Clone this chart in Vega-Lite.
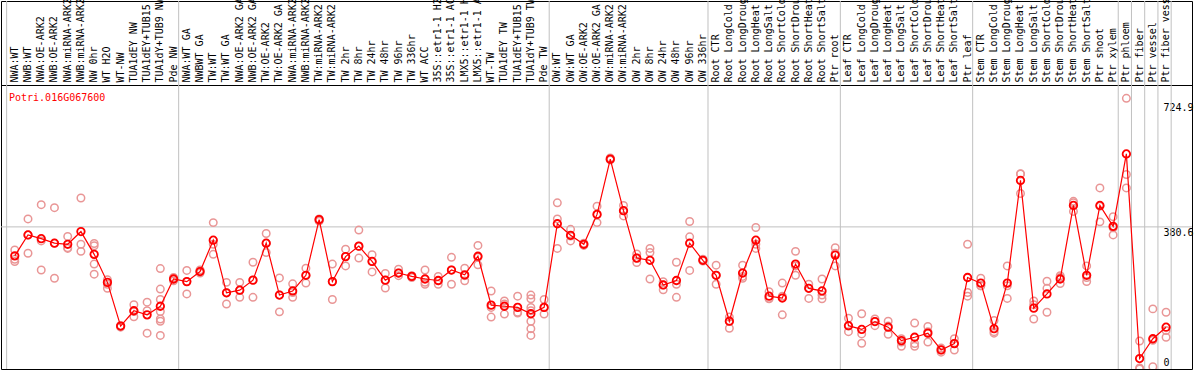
{
  "$schema": "https://vega.github.io/schema/vega-lite/v6.json",
  "width": 1191,
  "height": 368,
  "autosize": {"type": "none"},
  "padding": {"left": 1, "top": 1, "right": 2, "bottom": 1},
  "background": "white",
  "config": {
    "view": {"stroke": "black", "strokeWidth": 1},
    "font": "DejaVu Sans Mono",
    "axisX": {"offset": -84, "domain": true, "domainColor": "black", "domainWidth": 1, "ticks": false, "grid": false, "labelAngle": 270, "labelAlign": "left", "labelBaseline": "middle", "labelPadding": 3, "labelFont": "DejaVu Sans Mono", "labelFontSize": 10, "labelColor": "black", "labelOverlap": false, "labelOffset": 1.5, "labelLimit": 300, "labelBound": false, "zindex": 1},
    "axisY": {"offset": -30, "domain": false, "ticks": false, "grid": false, "labelFont": "DejaVu Sans Mono", "labelFontSize": 10, "labelColor": "black", "labelAlign": "left", "labelBaseline": "middle", "labelPadding": 1, "labelBound": false, "labelFlush": false, "labelOverlap": false, "zindex": 1}
  },
  "title": {"text": "Potri.016G067600", "orient": "bottom", "anchor": "start", "frame": "group", "offset": 0, "dx": 8, "dy": -272, "baseline": "middle", "color": "#FF0000", "font": "DejaVu Sans Mono", "fontSize": 10, "fontWeight": "normal"},
  "datasets": {
    "bounds": [{"c": "NWA:WT"}, {"c": "NWA:WT GA"}, {"c": "OW:WT"}, {"c": "Root CTR"}, {"c": "Leaf CTR"}, {"c": "Stem CTR"}, {"c": "Ptr phloem"}, {"c": "Ptr fiber"}, {"c": "Ptr vessel"}, {"c": "Ptr fiber vessel"}],
    "lastbound": [{"c": "Ptr fiber vessel"}],
    "gridline": [{"v": 380.6}],
    "means": [
      {"i": 1, "c": "NWA:WT", "v": 303}, {"i": 2, "c": "NWB:WT", "v": 359}, {"i": 3, "c": "NWA:OE-ARK2", "v": 349}, {"i": 4, "c": "NWB:OE-ARK2", "v": 337},
      {"i": 5, "c": "NWA:miRNA-ARK2", "v": 334}, {"i": 6, "c": "NWB:miRNA-ARK2", "v": 368}, {"i": 7, "c": "NW 0hr", "v": 307}, {"i": 8, "c": "WT H2O", "v": 232},
      {"i": 9, "c": "WT-NW", "v": 115}, {"i": 10, "c": "TUA1dEY NW", "v": 156}, {"i": 11, "c": "TUA1dEY+TUB15 NW", "v": 145}, {"i": 12, "c": "TUA1dY+TUB9 NW", "v": 168},
      {"i": 13, "c": "Pde NW", "v": 241}, {"i": 14, "c": "NWA:WT GA", "v": 234}, {"i": 15, "c": "NWBWT GA", "v": 261}, {"i": 16, "c": "TW:WT", "v": 345},
      {"i": 17, "c": "TW:WT GA", "v": 204}, {"i": 18, "c": "NWA:OE-ARK2 GA", "v": 211}, {"i": 19, "c": "NWB:OE-ARK2 GA", "v": 238}, {"i": 20, "c": "TW:OE-ARK2", "v": 337},
      {"i": 21, "c": "TW:OE-ARK2 GA", "v": 198}, {"i": 22, "c": "NWA:miRNA-ARK2 ", "v": 209}, {"i": 23, "c": "NWB:miRNA-ARK2 ", "v": 251}, {"i": 24, "c": "TW:miRNA-ARK2", "v": 400},
      {"i": 25, "c": "TW:miRNA-ARK2 ", "v": 234}, {"i": 26, "c": "TW 2hr", "v": 301}, {"i": 27, "c": "TW 8hr", "v": 329}, {"i": 28, "c": "TW 24hr", "v": 288},
      {"i": 29, "c": "TW 48hr", "v": 238}, {"i": 30, "c": "TW 96hr", "v": 257}, {"i": 31, "c": "TW 336hr", "v": 248}, {"i": 32, "c": "WT ACC", "v": 241},
      {"i": 33, "c": "35S::etr1-1 H2O", "v": 237}, {"i": 34, "c": "35S::etr1-1 ACC", "v": 265}, {"i": 35, "c": "LMX5::etr1-1 H2O", "v": 252}, {"i": 36, "c": "LMX5::etr1-1 ACC", "v": 302},
      {"i": 37, "c": "WT-TW", "v": 171}, {"i": 38, "c": "TUA1dEY TW", "v": 168}, {"i": 39, "c": "TUA1dEY+TUB15 TW", "v": 165}, {"i": 40, "c": "TUA1dY+TUB9 TW", "v": 148},
      {"i": 41, "c": "Pde TW", "v": 165}, {"i": 42, "c": "OW:WT", "v": 389}, {"i": 43, "c": "OW:WT GA", "v": 358}, {"i": 44, "c": "OW:OE-ARK2", "v": 334},
      {"i": 45, "c": "OW:OE-ARK2 GA", "v": 414}, {"i": 46, "c": "OW:miRNA-ARK2", "v": 562}, {"i": 47, "c": "OW:miRNA-ARK2 ", "v": 424}, {"i": 48, "c": "OW 2hr", "v": 297},
      {"i": 49, "c": "OW 8hr", "v": 291}, {"i": 50, "c": "OW 24hr", "v": 225}, {"i": 51, "c": "OW 48hr", "v": 237}, {"i": 52, "c": "OW 96hr", "v": 337},
      {"i": 53, "c": "OW 336hr", "v": 291}, {"i": 54, "c": "Root CTR", "v": 251}, {"i": 55, "c": "Root LongCold", "v": 128}, {"i": 56, "c": "Root LongDrought", "v": 257},
      {"i": 57, "c": "Root LongHeat", "v": 345}, {"i": 58, "c": "Root LongSalt", "v": 195}, {"i": 59, "c": "Root ShortCold", "v": 190}, {"i": 60, "c": "Root ShortDrought", "v": 281},
      {"i": 61, "c": "Root ShortHeat", "v": 216}, {"i": 62, "c": "Root ShortSalt", "v": 209}, {"i": 63, "c": "Ptr root", "v": 305}, {"i": 64, "c": "Leaf CTR", "v": 116},
      {"i": 65, "c": "Leaf LongCold", "v": 106}, {"i": 66, "c": "Leaf LongDrought", "v": 127}, {"i": 67, "c": "Leaf LongHeat", "v": 112}, {"i": 68, "c": "Leaf LongSalt", "v": 76},
      {"i": 69, "c": "Leaf ShortCold", "v": 85}, {"i": 70, "c": "Leaf ShortDrought", "v": 96}, {"i": 71, "c": "Leaf ShortHeat", "v": 51}, {"i": 72, "c": "Leaf ShortSalt", "v": 68},
      {"i": 73, "c": "Ptr leaf", "v": 245}, {"i": 74, "c": "Stem CTR", "v": 230}, {"i": 75, "c": "Stem LongCold", "v": 108}, {"i": 76, "c": "Stem LongDrought", "v": 230},
      {"i": 77, "c": "Stem LongHeat", "v": 505}, {"i": 78, "c": "Stem LongSalt", "v": 163}, {"i": 79, "c": "Stem ShortCold", "v": 201}, {"i": 80, "c": "Stem ShortDrought", "v": 241},
      {"i": 81, "c": "Stem ShortHeat", "v": 438}, {"i": 82, "c": "Stem ShortSalt", "v": 251}, {"i": 83, "c": "Ptr shoot", "v": 438}, {"i": 84, "c": "Ptr xylem", "v": 382},
      {"i": 85, "c": "Ptr phloem", "v": 576}, {"i": 86, "c": "Ptr fiber", "v": 28}, {"i": 87, "c": "Ptr vessel", "v": 81}, {"i": 88, "c": "Ptr fiber vessel", "v": 112}
    ],
    "reps": [
      {"c": "NWA:WT", "v": 319}, {"c": "NWA:WT", "v": 294}, {"c": "NWA:WT", "v": 288},
      {"c": "NWB:WT", "v": 402}, {"c": "NWB:WT", "v": 359}, {"c": "NWB:WT", "v": 310},
      {"c": "NWA:OE-ARK2", "v": 440}, {"c": "NWA:OE-ARK2", "v": 343}, {"c": "NWA:OE-ARK2", "v": 265},
      {"c": "NWB:OE-ARK2", "v": 432}, {"c": "NWB:OE-ARK2", "v": 337}, {"c": "NWB:OE-ARK2", "v": 243},
      {"c": "NWA:miRNA-ARK2", "v": 355}, {"c": "NWA:miRNA-ARK2", "v": 323}, {"c": "NWA:miRNA-ARK2", "v": 325},
      {"c": "NWB:miRNA-ARK2", "v": 458}, {"c": "NWB:miRNA-ARK2", "v": 334}, {"c": "NWB:miRNA-ARK2", "v": 315},
      {"c": "NW 0hr", "v": 336}, {"c": "NW 0hr", "v": 330}, {"c": "NW 0hr", "v": 281}, {"c": "NW 0hr", "v": 254},
      {"c": "WT H2O", "v": 239}, {"c": "WT H2O", "v": 227}, {"c": "WT H2O", "v": 216},
      {"c": "WT-NW", "v": 116}, {"c": "WT-NW", "v": 115}, {"c": "WT-NW", "v": 112},
      {"c": "TUA1dEY NW", "v": 172}, {"c": "TUA1dEY NW", "v": 154}, {"c": "TUA1dEY NW", "v": 140},
      {"c": "TUA1dEY+TUB15 NW", "v": 179}, {"c": "TUA1dEY+TUB15 NW", "v": 156}, {"c": "TUA1dEY+TUB15 NW", "v": 96},
      {"c": "TUA1dY+TUB9 NW", "v": 269}, {"c": "TUA1dY+TUB9 NW", "v": 214}, {"c": "TUA1dY+TUB9 NW", "v": 186}, {"c": "TUA1dY+TUB9 NW", "v": 154}, {"c": "TUA1dY+TUB9 NW", "v": 134}, {"c": "TUA1dY+TUB9 NW", "v": 128}, {"c": "TUA1dY+TUB9 NW", "v": 90},
      {"c": "Pde NW", "v": 245}, {"c": "Pde NW", "v": 241}, {"c": "Pde NW", "v": 236},
      {"c": "NWA:WT GA", "v": 264}, {"c": "NWA:WT GA", "v": 234}, {"c": "NWA:WT GA", "v": 201},
      {"c": "NWBWT GA", "v": 265}, {"c": "NWBWT GA", "v": 257}, {"c": "NWBWT GA", "v": 261},
      {"c": "TW:WT", "v": 392}, {"c": "TW:WT", "v": 334}, {"c": "TW:WT", "v": 307},
      {"c": "TW:WT GA", "v": 232}, {"c": "TW:WT GA", "v": 204}, {"c": "TW:WT GA", "v": 174},
      {"c": "NWA:OE-ARK2 GA", "v": 232}, {"c": "NWA:OE-ARK2 GA", "v": 211}, {"c": "NWA:OE-ARK2 GA", "v": 192},
      {"c": "NWB:OE-ARK2 GA", "v": 286}, {"c": "NWB:OE-ARK2 GA", "v": 238}, {"c": "NWB:OE-ARK2 GA", "v": 192},
      {"c": "TW:OE-ARK2", "v": 363}, {"c": "TW:OE-ARK2", "v": 337}, {"c": "TW:OE-ARK2", "v": 312},
      {"c": "TW:OE-ARK2 GA", "v": 244}, {"c": "TW:OE-ARK2 GA", "v": 198}, {"c": "TW:OE-ARK2 GA", "v": 153},
      {"c": "NWA:miRNA-ARK2 ", "v": 228}, {"c": "NWA:miRNA-ARK2 ", "v": 205}, {"c": "NWA:miRNA-ARK2 ", "v": 192},
      {"c": "NWB:miRNA-ARK2 ", "v": 270}, {"c": "NWB:miRNA-ARK2 ", "v": 250}, {"c": "NWB:miRNA-ARK2 ", "v": 230},
      {"c": "TW:miRNA-ARK2", "v": 402}, {"c": "TW:miRNA-ARK2", "v": 400}, {"c": "TW:miRNA-ARK2", "v": 396},
      {"c": "TW:miRNA-ARK2 ", "v": 281}, {"c": "TW:miRNA-ARK2 ", "v": 234}, {"c": "TW:miRNA-ARK2 ", "v": 186},
      {"c": "TW 2hr", "v": 321}, {"c": "TW 2hr", "v": 301}, {"c": "TW 2hr", "v": 276},
      {"c": "TW 8hr", "v": 372}, {"c": "TW 8hr", "v": 329}, {"c": "TW 8hr", "v": 297},
      {"c": "TW 24hr", "v": 306}, {"c": "TW 24hr", "v": 288}, {"c": "TW 24hr", "v": 260},
      {"c": "TW 48hr", "v": 256}, {"c": "TW 48hr", "v": 238}, {"c": "TW 48hr", "v": 217},
      {"c": "TW 96hr", "v": 267}, {"c": "TW 96hr", "v": 257}, {"c": "TW 96hr", "v": 250},
      {"c": "TW 336hr", "v": 250}, {"c": "TW 336hr", "v": 248}, {"c": "TW 336hr", "v": 245},
      {"c": "WT ACC", "v": 265}, {"c": "WT ACC", "v": 232}, {"c": "WT ACC", "v": 227},
      {"c": "35S::etr1-1 H2O", "v": 248}, {"c": "35S::etr1-1 H2O", "v": 236}, {"c": "35S::etr1-1 H2O", "v": 227},
      {"c": "35S::etr1-1 ACC", "v": 299}, {"c": "35S::etr1-1 ACC", "v": 265}, {"c": "35S::etr1-1 ACC", "v": 227},
      {"c": "LMX5::etr1-1 H2O", "v": 270}, {"c": "LMX5::etr1-1 H2O", "v": 250}, {"c": "LMX5::etr1-1 H2O", "v": 236},
      {"c": "LMX5::etr1-1 ACC", "v": 331}, {"c": "LMX5::etr1-1 ACC", "v": 299}, {"c": "LMX5::etr1-1 ACC", "v": 279},
      {"c": "WT-TW", "v": 209}, {"c": "WT-TW", "v": 165}, {"c": "WT-TW", "v": 139},
      {"c": "TUA1dEY TW", "v": 182}, {"c": "TUA1dEY TW", "v": 174}, {"c": "TUA1dEY TW", "v": 147},
      {"c": "TUA1dEY+TUB15 TW", "v": 195}, {"c": "TUA1dEY+TUB15 TW", "v": 152}, {"c": "TUA1dEY+TUB15 TW", "v": 150},
      {"c": "TUA1dY+TUB9 TW", "v": 198}, {"c": "TUA1dY+TUB9 TW", "v": 188}, {"c": "TUA1dY+TUB9 TW", "v": 165}, {"c": "TUA1dY+TUB9 TW", "v": 156}, {"c": "TUA1dY+TUB9 TW", "v": 128}, {"c": "TUA1dY+TUB9 TW", "v": 108}, {"c": "TUA1dY+TUB9 TW", "v": 90},
      {"c": "Pde TW", "v": 186}, {"c": "Pde TW", "v": 165}, {"c": "Pde TW", "v": 147},
      {"c": "OW:WT", "v": 445}, {"c": "OW:WT", "v": 402}, {"c": "OW:WT", "v": 323},
      {"c": "OW:WT GA", "v": 374}, {"c": "OW:WT GA", "v": 356}, {"c": "OW:WT GA", "v": 343},
      {"c": "OW:OE-ARK2", "v": 337}, {"c": "OW:OE-ARK2", "v": 334}, {"c": "OW:OE-ARK2", "v": 331},
      {"c": "OW:OE-ARK2 GA", "v": 436}, {"c": "OW:OE-ARK2 GA", "v": 414}, {"c": "OW:OE-ARK2 GA", "v": 392},
      {"c": "OW:miRNA-ARK2", "v": 565}, {"c": "OW:miRNA-ARK2", "v": 562}, {"c": "OW:miRNA-ARK2", "v": 560},
      {"c": "OW:miRNA-ARK2 ", "v": 438}, {"c": "OW:miRNA-ARK2 ", "v": 424}, {"c": "OW:miRNA-ARK2 ", "v": 410},
      {"c": "OW 2hr", "v": 308}, {"c": "OW 2hr", "v": 297}, {"c": "OW 2hr", "v": 285},
      {"c": "OW 8hr", "v": 323}, {"c": "OW 8hr", "v": 312}, {"c": "OW 8hr", "v": 241},
      {"c": "OW 24hr", "v": 234}, {"c": "OW 24hr", "v": 225}, {"c": "OW 24hr", "v": 212},
      {"c": "OW 48hr", "v": 286}, {"c": "OW 48hr", "v": 227}, {"c": "OW 48hr", "v": 192},
      {"c": "OW 96hr", "v": 395}, {"c": "OW 96hr", "v": 354}, {"c": "OW 96hr", "v": 264},
      {"c": "OW 336hr", "v": 294}, {"c": "OW 336hr", "v": 291}, {"c": "OW 336hr", "v": 289},
      {"c": "Root CTR", "v": 278}, {"c": "Root CTR", "v": 251}, {"c": "Root CTR", "v": 227},
      {"c": "Root LongCold", "v": 139}, {"c": "Root LongCold", "v": 128}, {"c": "Root LongCold", "v": 109},
      {"c": "Root LongDrought", "v": 278}, {"c": "Root LongDrought", "v": 248}, {"c": "Root LongDrought", "v": 243},
      {"c": "Root LongHeat", "v": 379}, {"c": "Root LongHeat", "v": 334}, {"c": "Root LongHeat", "v": 323},
      {"c": "Root LongSalt", "v": 207}, {"c": "Root LongSalt", "v": 189}, {"c": "Root LongSalt", "v": 188},
      {"c": "Root ShortCold", "v": 230}, {"c": "Root ShortCold", "v": 195}, {"c": "Root ShortCold", "v": 145},
      {"c": "Root ShortDrought", "v": 315}, {"c": "Root ShortDrought", "v": 276}, {"c": "Root ShortDrought", "v": 251},
      {"c": "Root ShortHeat", "v": 227}, {"c": "Root ShortHeat", "v": 216}, {"c": "Root ShortHeat", "v": 189},
      {"c": "Root ShortSalt", "v": 241}, {"c": "Root ShortSalt", "v": 198}, {"c": "Root ShortSalt", "v": 188},
      {"c": "Ptr root", "v": 325}, {"c": "Ptr root", "v": 310}, {"c": "Ptr root", "v": 276},
      {"c": "Leaf CTR", "v": 136}, {"c": "Leaf CTR", "v": 115}, {"c": "Leaf CTR", "v": 100},
      {"c": "Leaf LongCold", "v": 148}, {"c": "Leaf LongCold", "v": 94}, {"c": "Leaf LongCold", "v": 69},
      {"c": "Leaf LongDrought", "v": 134}, {"c": "Leaf LongDrought", "v": 127}, {"c": "Leaf LongDrought", "v": 116},
      {"c": "Leaf LongHeat", "v": 128}, {"c": "Leaf LongHeat", "v": 115}, {"c": "Leaf LongHeat", "v": 93},
      {"c": "Leaf LongSalt", "v": 81}, {"c": "Leaf LongSalt", "v": 72}, {"c": "Leaf LongSalt", "v": 61},
      {"c": "Leaf ShortCold", "v": 123}, {"c": "Leaf ShortCold", "v": 68}, {"c": "Leaf ShortCold", "v": 61},
      {"c": "Leaf ShortDrought", "v": 114}, {"c": "Leaf ShortDrought", "v": 100}, {"c": "Leaf ShortDrought", "v": 72},
      {"c": "Leaf ShortHeat", "v": 56}, {"c": "Leaf ShortHeat", "v": 51}, {"c": "Leaf ShortHeat", "v": 45},
      {"c": "Leaf ShortSalt", "v": 81}, {"c": "Leaf ShortSalt", "v": 68}, {"c": "Leaf ShortSalt", "v": 51},
      {"c": "Ptr leaf", "v": 334}, {"c": "Ptr leaf", "v": 205}, {"c": "Ptr leaf", "v": 195},
      {"c": "Stem CTR", "v": 243}, {"c": "Stem CTR", "v": 223}, {"c": "Stem CTR", "v": 223},
      {"c": "Stem LongCold", "v": 130}, {"c": "Stem LongCold", "v": 100}, {"c": "Stem LongCold", "v": 96},
      {"c": "Stem LongDrought", "v": 276}, {"c": "Stem LongDrought", "v": 223}, {"c": "Stem LongDrought", "v": 189},
      {"c": "Stem LongHeat", "v": 523}, {"c": "Stem LongHeat", "v": 522}, {"c": "Stem LongHeat", "v": 470},
      {"c": "Stem LongSalt", "v": 182}, {"c": "Stem LongSalt", "v": 172}, {"c": "Stem LongSalt", "v": 134},
      {"c": "Stem ShortCold", "v": 235}, {"c": "Stem ShortCold", "v": 216}, {"c": "Stem ShortCold", "v": 152},
      {"c": "Stem ShortDrought", "v": 250}, {"c": "Stem ShortDrought", "v": 245}, {"c": "Stem ShortDrought", "v": 229},
      {"c": "Stem ShortHeat", "v": 449}, {"c": "Stem ShortHeat", "v": 445}, {"c": "Stem ShortHeat", "v": 422},
      {"c": "Stem ShortSalt", "v": 276}, {"c": "Stem ShortSalt", "v": 245}, {"c": "Stem ShortSalt", "v": 234},
      {"c": "Ptr shoot", "v": 485}, {"c": "Ptr shoot", "v": 436}, {"c": "Ptr shoot", "v": 394},
      {"c": "Ptr xylem", "v": 408}, {"c": "Ptr xylem", "v": 378}, {"c": "Ptr xylem", "v": 359},
      {"c": "Ptr phloem", "v": 724.9}, {"c": "Ptr phloem", "v": 521}, {"c": "Ptr phloem", "v": 485},
      {"c": "Ptr fiber", "v": 75}, {"c": "Ptr fiber", "v": 3}, {"c": "Ptr fiber", "v": 0},
      {"c": "Ptr vessel", "v": 161}, {"c": "Ptr vessel", "v": 77}, {"c": "Ptr vessel", "v": 6},
      {"c": "Ptr fiber vessel", "v": 152}, {"c": "Ptr fiber vessel", "v": 103}, {"c": "Ptr fiber vessel", "v": 85}
    ]
  },
  "layer": [
    {
      "data": {"name": "bounds"},
      "mark": {"type": "rule", "color": "#c0c0c0", "strokeWidth": 1},
      "encoding": {
        "x": {"field": "c", "type": "nominal", "bandPosition": 0, "axis": {"orient": "top", "title": null, "offset": -84},
          "scale": {"type": "band", "domain": ["NWA:WT", "NWB:WT", "NWA:OE-ARK2", "NWB:OE-ARK2", "NWA:miRNA-ARK2", "NWB:miRNA-ARK2", "NW 0hr", "WT H2O", "WT-NW", "TUA1dEY NW", "TUA1dEY+TUB15 NW", "TUA1dY+TUB9 NW", "Pde NW", "NWA:WT GA", "NWBWT GA", "TW:WT", "TW:WT GA", "NWA:OE-ARK2 GA", "NWB:OE-ARK2 GA", "TW:OE-ARK2", "TW:OE-ARK2 GA", "NWA:miRNA-ARK2 ", "NWB:miRNA-ARK2 ", "TW:miRNA-ARK2", "TW:miRNA-ARK2 ", "TW 2hr", "TW 8hr", "TW 24hr", "TW 48hr", "TW 96hr", "TW 336hr", "WT ACC", "35S::etr1-1 H2O", "35S::etr1-1 ACC", "LMX5::etr1-1 H2O", "LMX5::etr1-1 ACC", "WT-TW", "TUA1dEY TW", "TUA1dEY+TUB15 TW", "TUA1dY+TUB9 TW", "Pde TW", "OW:WT", "OW:WT GA", "OW:OE-ARK2", "OW:OE-ARK2 GA", "OW:miRNA-ARK2", "OW:miRNA-ARK2 ", "OW 2hr", "OW 8hr", "OW 24hr", "OW 48hr", "OW 96hr", "OW 336hr", "Root CTR", "Root LongCold", "Root LongDrought", "Root LongHeat", "Root LongSalt", "Root ShortCold", "Root ShortDrought", "Root ShortHeat", "Root ShortSalt", "Ptr root", "Leaf CTR", "Leaf LongCold", "Leaf LongDrought", "Leaf LongHeat", "Leaf LongSalt", "Leaf ShortCold", "Leaf ShortDrought", "Leaf ShortHeat", "Leaf ShortSalt", "Ptr leaf", "Stem CTR", "Stem LongCold", "Stem LongDrought", "Stem LongHeat", "Stem LongSalt", "Stem ShortCold", "Stem ShortDrought", "Stem ShortHeat", "Stem ShortSalt", "Ptr shoot", "Ptr xylem", "Ptr phloem", "Ptr fiber", "Ptr vessel", "Ptr fiber vessel"], "paddingInner": 0, "paddingOuter": 1.8077, "align": 0.2128}
        }
      }
    },
    {
      "data": {"name": "lastbound"},
      "mark": {"type": "rule", "color": "#c0c0c0", "strokeWidth": 1},
      "encoding": {
        "x": {"field": "c", "type": "nominal", "bandPosition": 1, "axis": {"orient": "top", "title": null, "offset": -84},
          "scale": {"type": "band", "domain": ["NWA:WT", "NWB:WT", "NWA:OE-ARK2", "NWB:OE-ARK2", "NWA:miRNA-ARK2", "NWB:miRNA-ARK2", "NW 0hr", "WT H2O", "WT-NW", "TUA1dEY NW", "TUA1dEY+TUB15 NW", "TUA1dY+TUB9 NW", "Pde NW", "NWA:WT GA", "NWBWT GA", "TW:WT", "TW:WT GA", "NWA:OE-ARK2 GA", "NWB:OE-ARK2 GA", "TW:OE-ARK2", "TW:OE-ARK2 GA", "NWA:miRNA-ARK2 ", "NWB:miRNA-ARK2 ", "TW:miRNA-ARK2", "TW:miRNA-ARK2 ", "TW 2hr", "TW 8hr", "TW 24hr", "TW 48hr", "TW 96hr", "TW 336hr", "WT ACC", "35S::etr1-1 H2O", "35S::etr1-1 ACC", "LMX5::etr1-1 H2O", "LMX5::etr1-1 ACC", "WT-TW", "TUA1dEY TW", "TUA1dEY+TUB15 TW", "TUA1dY+TUB9 TW", "Pde TW", "OW:WT", "OW:WT GA", "OW:OE-ARK2", "OW:OE-ARK2 GA", "OW:miRNA-ARK2", "OW:miRNA-ARK2 ", "OW 2hr", "OW 8hr", "OW 24hr", "OW 48hr", "OW 96hr", "OW 336hr", "Root CTR", "Root LongCold", "Root LongDrought", "Root LongHeat", "Root LongSalt", "Root ShortCold", "Root ShortDrought", "Root ShortHeat", "Root ShortSalt", "Ptr root", "Leaf CTR", "Leaf LongCold", "Leaf LongDrought", "Leaf LongHeat", "Leaf LongSalt", "Leaf ShortCold", "Leaf ShortDrought", "Leaf ShortHeat", "Leaf ShortSalt", "Ptr leaf", "Stem CTR", "Stem LongCold", "Stem LongDrought", "Stem LongHeat", "Stem LongSalt", "Stem ShortCold", "Stem ShortDrought", "Stem ShortHeat", "Stem ShortSalt", "Ptr shoot", "Ptr xylem", "Ptr phloem", "Ptr fiber", "Ptr vessel", "Ptr fiber vessel"], "paddingInner": 0, "paddingOuter": 1.8077, "align": 0.2128}
        }
      }
    },
    {
      "data": {"name": "gridline"},
      "mark": {"type": "rule", "color": "#c0c0c0", "strokeWidth": 1},
      "encoding": {
        "y": {"field": "v", "type": "quantitative", "scale": {"domain": [0, 985.5], "nice": false, "zero": true},
          "axis": {"orient": "right", "title": null, "offset": -30, "values": [0, 380.6, 724.9], "labelExpr": "datum.value == 0 ? '0' : format(datum.value, '.1f')", "labelOffset": {"condition": [{"test": "datum.value > 700", "value": 9}, {"test": "datum.value < 1", "value": -7}], "value": 6}}}
      }
    },
    {
      "data": {"name": "reps"},
      "mark": {"type": "point", "shape": "circle", "filled": false, "stroke": "#e99696", "strokeWidth": 1.5, "size": 56, "clip": true, "opacity": 1},
      "encoding": {
        "x": {"field": "c", "type": "nominal", "bandPosition": 0.615, "axis": {"orient": "top", "title": null, "offset": -84},
          "scale": {"type": "band", "domain": ["NWA:WT", "NWB:WT", "NWA:OE-ARK2", "NWB:OE-ARK2", "NWA:miRNA-ARK2", "NWB:miRNA-ARK2", "NW 0hr", "WT H2O", "WT-NW", "TUA1dEY NW", "TUA1dEY+TUB15 NW", "TUA1dY+TUB9 NW", "Pde NW", "NWA:WT GA", "NWBWT GA", "TW:WT", "TW:WT GA", "NWA:OE-ARK2 GA", "NWB:OE-ARK2 GA", "TW:OE-ARK2", "TW:OE-ARK2 GA", "NWA:miRNA-ARK2 ", "NWB:miRNA-ARK2 ", "TW:miRNA-ARK2", "TW:miRNA-ARK2 ", "TW 2hr", "TW 8hr", "TW 24hr", "TW 48hr", "TW 96hr", "TW 336hr", "WT ACC", "35S::etr1-1 H2O", "35S::etr1-1 ACC", "LMX5::etr1-1 H2O", "LMX5::etr1-1 ACC", "WT-TW", "TUA1dEY TW", "TUA1dEY+TUB15 TW", "TUA1dY+TUB9 TW", "Pde TW", "OW:WT", "OW:WT GA", "OW:OE-ARK2", "OW:OE-ARK2 GA", "OW:miRNA-ARK2", "OW:miRNA-ARK2 ", "OW 2hr", "OW 8hr", "OW 24hr", "OW 48hr", "OW 96hr", "OW 336hr", "Root CTR", "Root LongCold", "Root LongDrought", "Root LongHeat", "Root LongSalt", "Root ShortCold", "Root ShortDrought", "Root ShortHeat", "Root ShortSalt", "Ptr root", "Leaf CTR", "Leaf LongCold", "Leaf LongDrought", "Leaf LongHeat", "Leaf LongSalt", "Leaf ShortCold", "Leaf ShortDrought", "Leaf ShortHeat", "Leaf ShortSalt", "Ptr leaf", "Stem CTR", "Stem LongCold", "Stem LongDrought", "Stem LongHeat", "Stem LongSalt", "Stem ShortCold", "Stem ShortDrought", "Stem ShortHeat", "Stem ShortSalt", "Ptr shoot", "Ptr xylem", "Ptr phloem", "Ptr fiber", "Ptr vessel", "Ptr fiber vessel"], "paddingInner": 0, "paddingOuter": 1.8077, "align": 0.2128}},
        "y": {"field": "v", "type": "quantitative", "scale": {"domain": [0, 985.5], "nice": false, "zero": true},
          "axis": {"orient": "right", "title": null, "offset": -30, "values": [0, 380.6, 724.9], "labelExpr": "datum.value == 0 ? '0' : format(datum.value, '.1f')", "labelOffset": {"condition": [{"test": "datum.value > 700", "value": 9}, {"test": "datum.value < 1", "value": -7}], "value": 6}}}
      }
    },
    {
      "data": {"name": "means"},
      "mark": {"type": "line", "color": "#ff0000", "strokeWidth": 1.2},
      "encoding": {
        "x": {"field": "c", "type": "nominal", "bandPosition": 0.615, "axis": {"orient": "top", "title": null, "offset": -84},
          "scale": {"type": "band", "domain": ["NWA:WT", "NWB:WT", "NWA:OE-ARK2", "NWB:OE-ARK2", "NWA:miRNA-ARK2", "NWB:miRNA-ARK2", "NW 0hr", "WT H2O", "WT-NW", "TUA1dEY NW", "TUA1dEY+TUB15 NW", "TUA1dY+TUB9 NW", "Pde NW", "NWA:WT GA", "NWBWT GA", "TW:WT", "TW:WT GA", "NWA:OE-ARK2 GA", "NWB:OE-ARK2 GA", "TW:OE-ARK2", "TW:OE-ARK2 GA", "NWA:miRNA-ARK2 ", "NWB:miRNA-ARK2 ", "TW:miRNA-ARK2", "TW:miRNA-ARK2 ", "TW 2hr", "TW 8hr", "TW 24hr", "TW 48hr", "TW 96hr", "TW 336hr", "WT ACC", "35S::etr1-1 H2O", "35S::etr1-1 ACC", "LMX5::etr1-1 H2O", "LMX5::etr1-1 ACC", "WT-TW", "TUA1dEY TW", "TUA1dEY+TUB15 TW", "TUA1dY+TUB9 TW", "Pde TW", "OW:WT", "OW:WT GA", "OW:OE-ARK2", "OW:OE-ARK2 GA", "OW:miRNA-ARK2", "OW:miRNA-ARK2 ", "OW 2hr", "OW 8hr", "OW 24hr", "OW 48hr", "OW 96hr", "OW 336hr", "Root CTR", "Root LongCold", "Root LongDrought", "Root LongHeat", "Root LongSalt", "Root ShortCold", "Root ShortDrought", "Root ShortHeat", "Root ShortSalt", "Ptr root", "Leaf CTR", "Leaf LongCold", "Leaf LongDrought", "Leaf LongHeat", "Leaf LongSalt", "Leaf ShortCold", "Leaf ShortDrought", "Leaf ShortHeat", "Leaf ShortSalt", "Ptr leaf", "Stem CTR", "Stem LongCold", "Stem LongDrought", "Stem LongHeat", "Stem LongSalt", "Stem ShortCold", "Stem ShortDrought", "Stem ShortHeat", "Stem ShortSalt", "Ptr shoot", "Ptr xylem", "Ptr phloem", "Ptr fiber", "Ptr vessel", "Ptr fiber vessel"], "paddingInner": 0, "paddingOuter": 1.8077, "align": 0.2128}},
        "y": {"field": "v", "type": "quantitative", "scale": {"domain": [0, 985.5], "nice": false, "zero": true},
          "axis": {"orient": "right", "title": null, "offset": -30, "values": [0, 380.6, 724.9], "labelExpr": "datum.value == 0 ? '0' : format(datum.value, '.1f')", "labelOffset": {"condition": [{"test": "datum.value > 700", "value": 9}, {"test": "datum.value < 1", "value": -7}], "value": 6}}},
        "order": {"field": "i", "type": "quantitative"}
      }
    },
    {
      "data": {"name": "means"},
      "mark": {"type": "point", "shape": "circle", "filled": false, "stroke": "#ff0000", "strokeWidth": 1.8, "size": 56, "opacity": 1},
      "encoding": {
        "x": {"field": "c", "type": "nominal", "bandPosition": 0.615, "axis": {"orient": "top", "title": null, "offset": -84},
          "scale": {"type": "band", "domain": ["NWA:WT", "NWB:WT", "NWA:OE-ARK2", "NWB:OE-ARK2", "NWA:miRNA-ARK2", "NWB:miRNA-ARK2", "NW 0hr", "WT H2O", "WT-NW", "TUA1dEY NW", "TUA1dEY+TUB15 NW", "TUA1dY+TUB9 NW", "Pde NW", "NWA:WT GA", "NWBWT GA", "TW:WT", "TW:WT GA", "NWA:OE-ARK2 GA", "NWB:OE-ARK2 GA", "TW:OE-ARK2", "TW:OE-ARK2 GA", "NWA:miRNA-ARK2 ", "NWB:miRNA-ARK2 ", "TW:miRNA-ARK2", "TW:miRNA-ARK2 ", "TW 2hr", "TW 8hr", "TW 24hr", "TW 48hr", "TW 96hr", "TW 336hr", "WT ACC", "35S::etr1-1 H2O", "35S::etr1-1 ACC", "LMX5::etr1-1 H2O", "LMX5::etr1-1 ACC", "WT-TW", "TUA1dEY TW", "TUA1dEY+TUB15 TW", "TUA1dY+TUB9 TW", "Pde TW", "OW:WT", "OW:WT GA", "OW:OE-ARK2", "OW:OE-ARK2 GA", "OW:miRNA-ARK2", "OW:miRNA-ARK2 ", "OW 2hr", "OW 8hr", "OW 24hr", "OW 48hr", "OW 96hr", "OW 336hr", "Root CTR", "Root LongCold", "Root LongDrought", "Root LongHeat", "Root LongSalt", "Root ShortCold", "Root ShortDrought", "Root ShortHeat", "Root ShortSalt", "Ptr root", "Leaf CTR", "Leaf LongCold", "Leaf LongDrought", "Leaf LongHeat", "Leaf LongSalt", "Leaf ShortCold", "Leaf ShortDrought", "Leaf ShortHeat", "Leaf ShortSalt", "Ptr leaf", "Stem CTR", "Stem LongCold", "Stem LongDrought", "Stem LongHeat", "Stem LongSalt", "Stem ShortCold", "Stem ShortDrought", "Stem ShortHeat", "Stem ShortSalt", "Ptr shoot", "Ptr xylem", "Ptr phloem", "Ptr fiber", "Ptr vessel", "Ptr fiber vessel"], "paddingInner": 0, "paddingOuter": 1.8077, "align": 0.2128}},
        "y": {"field": "v", "type": "quantitative", "scale": {"domain": [0, 985.5], "nice": false, "zero": true},
          "axis": {"orient": "right", "title": null, "offset": -30, "values": [0, 380.6, 724.9], "labelExpr": "datum.value == 0 ? '0' : format(datum.value, '.1f')", "labelOffset": {"condition": [{"test": "datum.value > 700", "value": 9}, {"test": "datum.value < 1", "value": -7}], "value": 6}}}
      }
    }
  ]
}
